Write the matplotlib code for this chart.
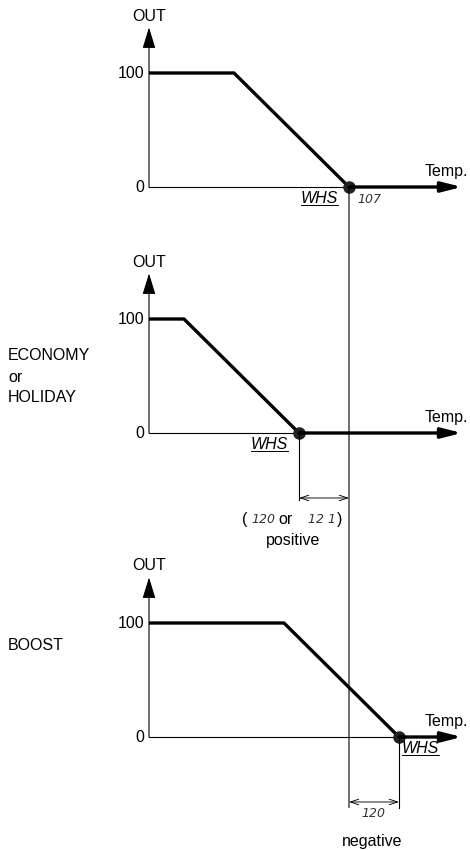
import matplotlib
matplotlib.use("Agg")
import matplotlib.pyplot as plt
from matplotlib.patches import ConnectionPatch
from matplotlib.lines import Line2D

plt.rcParams["font.family"] = ["Liberation Sans", "DejaVu Sans"]

# valori del grafico (temperatura in unità arbitrarie, uscita in %)
panel_names = ["", "ECONOMY\nor\nHOLIDAY", "BOOST"]
knee_temps = [17, 7, 27]
whs_temps = [40, 30, 50]
out_levels = [100, 0]
axis_end = 62.6
ref_temp = whs_temps[0]

# posizione verticale di ogni pannello (pixel dello zero) e scala
zero_px = [187, 433, 737]
px_per_out = 1.14
px_per_temp = 5.0
origin_px = 149
W, H = 470, 850

FS = 11.5      # testo principale
FS_SEG = 9     # cifre del display
SEG = dict(fontsize=FS_SEG, style="italic", family="DejaVu Sans", color="#333333")

fig = plt.figure(figsize=(4.7, 8.5), dpi=100)

axes = []
for z in zero_px:
    ax = fig.add_axes([0, 0, 1, 1])
    ax.set_xlim(-origin_px / px_per_temp, (W - origin_px) / px_per_temp)
    ax.set_ylim(-(H - z) / px_per_out, z / px_per_out)
    ax.axis("off")
    ax.patch.set_alpha(0)
    axes.append(ax)

thin = 0.8
thick = 2.4
underlines = []

for i, ax in enumerate(axes):
    knee = knee_temps[i]
    whs = whs_temps[i]

    # assi
    ax.annotate("", xy=(0, 140), xytext=(0, 0),
                arrowprops=dict(arrowstyle="-|>,head_length=1.3,head_width=0.4",
                                lw=thin, color="black", shrinkA=0, shrinkB=0,
                                mutation_scale=10))
    ax.text(0, 150, "OUT", ha="center", va="center", fontsize=FS)
    ax.plot([0, whs], [0, 0], color="black", lw=thin)
    ax.text(-1, 100, "100", ha="right", va="center", fontsize=FS)
    ax.text(-1, 0, "0", ha="right", va="center", fontsize=FS)
    ax.text(55.2, 14, "Temp.", ha="left", va="center", fontsize=FS)

    # curva di uscita
    ax.plot([0, knee, whs], [out_levels[0], out_levels[0], out_levels[1]],
            color="black", lw=thick, solid_capstyle="butt")
    ax.annotate("", xy=(axis_end, 0), xytext=(whs, 0),
                arrowprops=dict(arrowstyle="-|>,head_length=1.2,head_width=0.3",
                                lw=thick, color="black", shrinkA=0, shrinkB=0,
                                mutation_scale=10))
    ax.plot([whs], [0], "o", color="#222222", ms=8)

    # WHS
    if i < 2:
        t = ax.text(whs - 2.2, -10.5, "WHS", ha="right", va="center",
                    fontsize=FS, style="italic")
    else:
        t = ax.text(whs + 0.6, -10.5, "WHS", ha="left", va="center",
                    fontsize=FS, style="italic")
    underlines.append((ax, t))

# etichette a sinistra
for txt, y in zip(panel_names[1].split("\n"), [68.4, 49, 31]):
    axes[1].text(-28.2, y, txt, ha="left", va="center", fontsize=FS)
axes[2].text(-28.2, 80, panel_names[2], ha="left", va="center", fontsize=FS)

# primo pannello: parametro 107
axes[0].text(41.6, -11, "107", ha="left", va="center", **SEG)

# secondo pannello: quota positiva
ax = axes[1]
ax.plot([whs_temps[1], whs_temps[1]], [0, -59], color="black", lw=thin)
ax.annotate("", xy=(whs_temps[1], -57), xytext=(ref_temp, -57),
            arrowprops=dict(arrowstyle="<->,head_length=0.6,head_width=0.2",
                            lw=thin * 0.8, color="black", shrinkA=0, shrinkB=0))
pieces = [("(", {}, 0), ("120", SEG, 3), ("or", {}, 2), ("12 1", SEG, 11), (")", {}, 1)]
prev = None
for txt, kw, gap in pieces:
    style = dict(fontsize=FS)
    style.update(kw)
    if prev is None:
        prev = ax.text(18.6, -76, txt, ha="left", va="center", **style)
    else:
        prev = ax.annotate(txt, xy=(1, 0.5), xycoords=prev, xytext=(gap, 0),
                           textcoords="offset points", ha="left", va="center",
                           **style)
ax.text(28.8, -94, "positive", ha="center", va="center", fontsize=FS)

# terzo pannello: quota negativa
ax = axes[2]
ax.plot([whs_temps[2], whs_temps[2]], [0, -62], color="black", lw=thin)
ax.annotate("", xy=(ref_temp, -57), xytext=(whs_temps[2], -57),
            arrowprops=dict(arrowstyle="<->,head_length=0.6,head_width=0.2",
                            lw=thin * 0.8, color="black", shrinkA=0, shrinkB=0))
ax.text(44.8, -67, "120", ha="center", va="center", **SEG)
ax.text(44.6, -92, "negative", ha="center", va="center", fontsize=FS)

# linea verticale di riferimento attraverso i tre pannelli
con = ConnectionPatch(xyA=(ref_temp, 0), coordsA=axes[0].transData,
                      xyB=(ref_temp, -62), coordsB=axes[2].transData,
                      color="black", lw=thin)
fig.add_artist(con)

# sottolineatura di WHS
fig.canvas.draw()
renderer = fig.canvas.get_renderer()
for ax, t in underlines:
    bb = t.get_window_extent(renderer)
    inv = ax.transData.inverted()
    (x0, y0), (x1, _) = inv.transform([(bb.x0, bb.y0 + 1), (bb.x1, bb.y0 + 1)])
    ax.add_line(Line2D([x0, x1], [y0, y0], color="black", lw=0.7))

fig.savefig("out.png", dpi=100)
plt.close(fig)
